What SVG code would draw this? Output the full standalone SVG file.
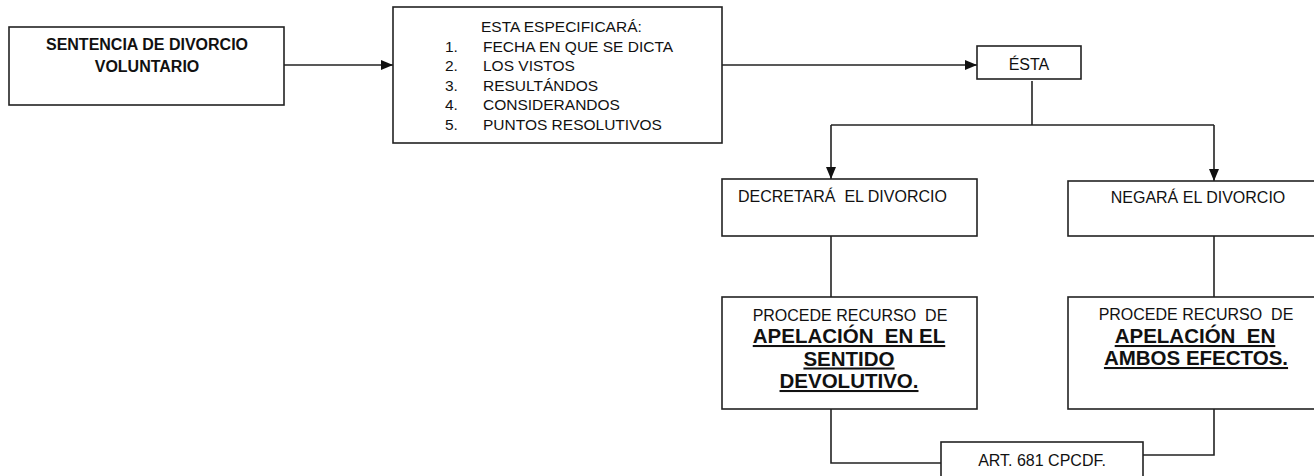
<svg xmlns="http://www.w3.org/2000/svg" width="1314" height="476" viewBox="0 0 1314 476">
<style>
.box{fill:#fff;stroke:#222;stroke-width:1.6}
.t{font-family:"Liberation Sans",Arial,sans-serif;font-size:16px;fill:#111}
.b{font-weight:bold}
.big{font-family:"Liberation Sans",Arial,sans-serif;font-size:20.5px;font-weight:bold;fill:#111;text-decoration:underline}
.c{fill:none;stroke:#222;stroke-width:1.6}
</style>
<defs>
<marker id="arr" markerUnits="userSpaceOnUse" markerWidth="12" markerHeight="10" refX="12" refY="5" orient="auto">
<path d="M0,0 L12,5 L0,10 Z" fill="#111"/>
</marker>
</defs>
<rect width="1314" height="476" fill="#fff"/>
<g id="connectors">
<line class="c" x1="284" y1="65" x2="393" y2="65" marker-end="url(#arr)"/>
<line class="c" x1="722" y1="65" x2="977" y2="65" marker-end="url(#arr)"/>
<line class="c" x1="1032" y1="81" x2="1032" y2="125"/>
<line class="c" x1="831" y1="125" x2="1214" y2="125"/>
<line class="c" x1="831" y1="125" x2="831" y2="179" marker-end="url(#arr)"/>
<line class="c" x1="1214" y1="125" x2="1214" y2="181" marker-end="url(#arr)"/>
<line class="c" x1="831" y1="236" x2="831" y2="297"/>
<line class="c" x1="1214" y1="236" x2="1214" y2="297"/>
<polyline class="c" points="831,409 831,463 941,463"/>
<polyline class="c" points="1214,409 1214,455 1143,455"/>
</g>
<g id="sentencia">
<rect class="box" x="9" y="27" width="275" height="78"/>
<text class="t b" x="147" y="50" text-anchor="middle">SENTENCIA DE DIVORCIO</text>
<text class="t b" x="147" y="72" text-anchor="middle">VOLUNTARIO</text>
</g>
<g id="especificara">
<rect class="box" x="393" y="7" width="329" height="136"/>
<text class="t" x="481" y="32" style="font-size:15.5px">ESTA ESPECIFICARÁ:</text>
<g style="font-size:15.5px">
<text class="t" x="445" y="51.5" style="font-size:15.5px">1.</text>
<text class="t" x="483" y="51.5" style="font-size:15.5px">FECHA EN QUE SE DICTA</text>
<text class="t" x="445" y="71" style="font-size:15.5px">2.</text>
<text class="t" x="483" y="71" style="font-size:15.5px">LOS VISTOS</text>
<text class="t" x="445" y="90.5" style="font-size:15.5px">3.</text>
<text class="t" x="483" y="90.5" style="font-size:15.5px">RESULTÁNDOS</text>
<text class="t" x="445" y="110" style="font-size:15.5px">4.</text>
<text class="t" x="483" y="110" style="font-size:15.5px">CONSIDERANDOS</text>
<text class="t" x="445" y="129.5" style="font-size:15.5px">5.</text>
<text class="t" x="483" y="129.5" style="font-size:15.5px">PUNTOS RESOLUTIVOS</text>
</g>
</g>
<g id="esta">
<rect class="box" x="977" y="46" width="104" height="33"/>
<text class="t" x="1029" y="70" text-anchor="middle">ÉSTA</text>
</g>
<g id="decretara">
<rect class="box" x="722" y="179" width="255" height="57"/>
<text class="t" x="738" y="202" xml:space="preserve">DECRETARÁ  EL DIVORCIO</text>
</g>
<g id="negara">
<rect class="box" x="1068" y="181" width="256" height="55"/>
<text class="t" x="1198" y="203" text-anchor="middle">NEGARÁ EL DIVORCIO</text>
</g>
<g id="procede1">
<rect class="box" x="722" y="297" width="255" height="112"/>
<text class="t" x="850" y="321" text-anchor="middle" xml:space="preserve">PROCEDE RECURSO  DE</text>
<text class="big" x="849" y="343" text-anchor="middle" xml:space="preserve">APELACIÓN  EN EL</text>
<text class="big" x="849" y="365.5" text-anchor="middle">SENTIDO</text>
<text class="big" x="849" y="388" text-anchor="middle">DEVOLUTIVO.</text>
</g>
<g id="procede2">
<rect class="box" x="1068" y="297" width="256" height="112"/>
<text class="t" x="1196" y="320" text-anchor="middle" xml:space="preserve">PROCEDE RECURSO  DE</text>
<text class="big" x="1195" y="343" text-anchor="middle" xml:space="preserve">APELACIÓN  EN</text>
<text class="big" x="1196" y="365" text-anchor="middle">AMBOS EFECTOS.</text>
</g>
<g id="art">
<rect class="box" x="941" y="442" width="202" height="40"/>
<text class="t" x="1042" y="466" text-anchor="middle">ART. 681 CPCDF.</text>
</g>
</svg>
